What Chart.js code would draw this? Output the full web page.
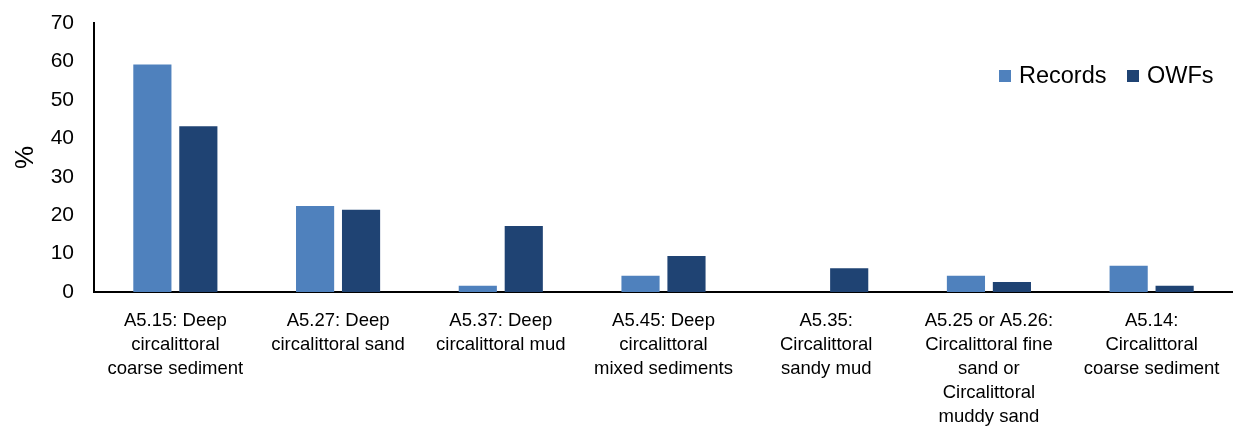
<!DOCTYPE html>
<html>
<head>
<meta charset="utf-8">
<script src="https://cdn.jsdelivr.net/npm/chart.js@4"></script>
<style>
  html, body { margin: 0; padding: 0; background: #fff; }
  #wrap { width: 1233px; height: 428px; position: relative; }
</style>
</head>
<body>
<div id="wrap"><canvas id="habitatChart"></canvas></div>
<script>
// Habitat categories (multi-line labels)
const categories = [
    ['A5.15: Deep', 'circalittoral', 'coarse sediment'],
    ['A5.27: Deep', 'circalittoral sand'],
    ['A5.37: Deep', 'circalittoral mud'],
    ['A5.45: Deep', 'circalittoral', 'mixed sediments'],
    ['A5.35:', 'Circalittoral', 'sandy mud'],
    ['A5.25 or A5.26:', 'Circalittoral fine', 'sand or', 'Circalittoral', 'muddy sand'],
    ['A5.14:', 'Circalittoral', 'coarse sediment']
];
const recordsPct = [59.2, 22.4, 1.6, 4.2, 0, 4.2, 6.8];
const owfsPct = [43.1, 21.4, 17.2, 9.4, 6.2, 2.6, 1.6];
const yTicks = [0, 10, 20, 30, 40, 50, 60, 70];

const RECORDS_COLOR = '#4F81BD';
const OWFS_COLOR = '#1F4373';
const FONT = "'Liberation Sans', Arial, sans-serif";

// Simple legend drawn inside the plot, top right
const insideLegend = {
    id: 'insideLegend',
    afterDraw(chart) {
        const ctx = chart.ctx;
        const items = [
            { x: 999, text: chart.data.datasets[0].label, color: chart.data.datasets[0].backgroundColor },
            { x: 1127, text: chart.data.datasets[1].label, color: chart.data.datasets[1].backgroundColor }
        ];
        ctx.save();
        ctx.font = '23.5px ' + FONT;
        ctx.textBaseline = 'middle';
        items.forEach(it => {
            ctx.fillStyle = it.color;
            ctx.fillRect(it.x, 70, 12, 12);
            ctx.fillStyle = '#000';
            ctx.fillText(it.text, it.x + 20, 77);
        });
        ctx.restore();
    }
};

new Chart(document.getElementById('habitatChart').getContext('2d'), {
    type: 'bar',
    data: {
        labels: categories,
        datasets: [
            { label: 'Records', data: recordsPct, backgroundColor: RECORDS_COLOR, barPercentage: 0.83, categoryPercentage: 0.565 },
            { label: 'OWFs', data: owfsPct, backgroundColor: OWFS_COLOR, barPercentage: 0.83, categoryPercentage: 0.565 }
        ]
    },
    options: {
        responsive: true,
        maintainAspectRatio: false,
        animation: false,
        layout: { padding: { top: 23, right: 0, bottom: 0, left: 0 } },
        plugins: {
            legend: { display: false },
            tooltip: { enabled: false }
        },
        scales: {
            x: {
                afterFit: axis => { axis.height = 136; axis.paddingLeft = 0; axis.paddingRight = 0; },
                grid: { display: false, drawTicks: false },
                border: { color: '#000', width: 2 },
                ticks: {
                    color: '#000',
                    autoSkip: false,
                    maxRotation: 0,
                    padding: 17,
                    font: { family: FONT, size: 18.5, lineHeight: '24px' }
                }
            },
            y: {
                min: 0,
                max: 70,
                afterBuildTicks: axis => { axis.ticks = yTicks.map(v => ({ value: v })); },
                afterFit: axis => { axis.width = 94; axis.paddingTop = 0; axis.paddingBottom = 0; },
                grid: { display: false, drawTicks: false },
                border: { color: '#000', width: 2 },
                title: {
                    display: true,
                    text: '%',
                    color: '#000',
                    font: { family: FONT, size: 26 },
                    padding: { top: 10, bottom: 0 }
                },
                ticks: {
                    color: '#000',
                    padding: 20,
                    font: { family: FONT, size: 21 }
                }
            }
        }
    },
    plugins: [insideLegend]
});
</script>
</body>
</html>
